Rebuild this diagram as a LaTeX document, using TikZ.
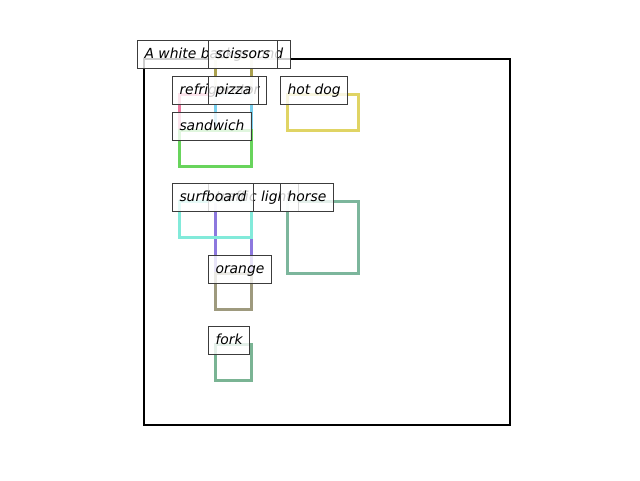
\documentclass[tikz,border=0pt]{standalone}
\usepackage{fontspec}
\setmainfont{DejaVu Sans}
\definecolor{cframe}{RGB}{0,0,0}
\definecolor{colive}{RGB}{170,160,78}
\definecolor{cpink}{RGB}{236,120,160}
\definecolor{ccyan}{RGB}{120,208,238}
\definecolor{cyellow}{RGB}{224,212,100}
\definecolor{cgreen}{RGB}{104,212,92}
\definecolor{caqua}{RGB}{130,234,218}
\definecolor{cpurple}{RGB}{140,120,222}
\definecolor{chorse}{RGB}{124,182,156}
\definecolor{corange}{RGB}{158,154,126}
\definecolor{cfork}{RGB}{122,180,148}
\definecolor{cedge}{RGB}{60,60,60}
\begin{document}
\begin{tikzpicture}[x=1pt,y=-1pt,
  bbox/.style={line width=3pt,line join=miter},
  framebox/.style={line width=2pt,draw=cframe,line join=miter},
  lbl/.style={anchor=base west,draw=cedge,line width=1pt,fill=white,fill opacity=0.8,text opacity=1,draw opacity=1,
    inner xsep=7pt,inner ysep=7pt,text height=10.6pt,text depth=3.3pt,
    font=\fontsize{13.89}{16}\selectfont\itshape}]
\useasboundingbox (0,0) rectangle (640,480);
% boxes
\draw[framebox] (144,59) rectangle (510,425);
\draw[bbox,colive] (215,58) rectangle (251,94);
\draw[bbox,cpink] (179,94) rectangle (215,130);
\draw[bbox,ccyan] (215,94) rectangle (251,130);
\draw[bbox,cyellow] (287,94) rectangle (358,130);
\draw[bbox,cgreen] (179,130) rectangle (251,166);
\draw[bbox,cpurple] (215,201) rectangle (251,273);
\draw[bbox,caqua] (179,201) rectangle (251,237);
\draw[bbox,chorse] (287,201) rectangle (358,273);
\draw[bbox,corange] (215,273) rectangle (251,309);
\draw[bbox,cfork] (215,344) rectangle (251,380);
% labels
\node[lbl] (l1) at (137,58) {A white background};
\node[lbl] (l2) at (208,58) {scissors};
\node[lbl] (l3) at (172,94) {refrigerator};
\node[lbl] (l4) at (208,94) {pizza};
\node[lbl] (l5) at (280,94) {hot dog};
\node[lbl] (l6) at (172,130) {sandwich};
\node[lbl] (l7) at (208,201) {traffic light};
\node[lbl] (l8) at (172,201) {surfboard};
\node[lbl] (l9) at (280,201) {horse};
\node[lbl] (l10) at (208,273) {orange};
\node[lbl] (l11) at (208,344) {fork};
\end{tikzpicture}
\end{document}
